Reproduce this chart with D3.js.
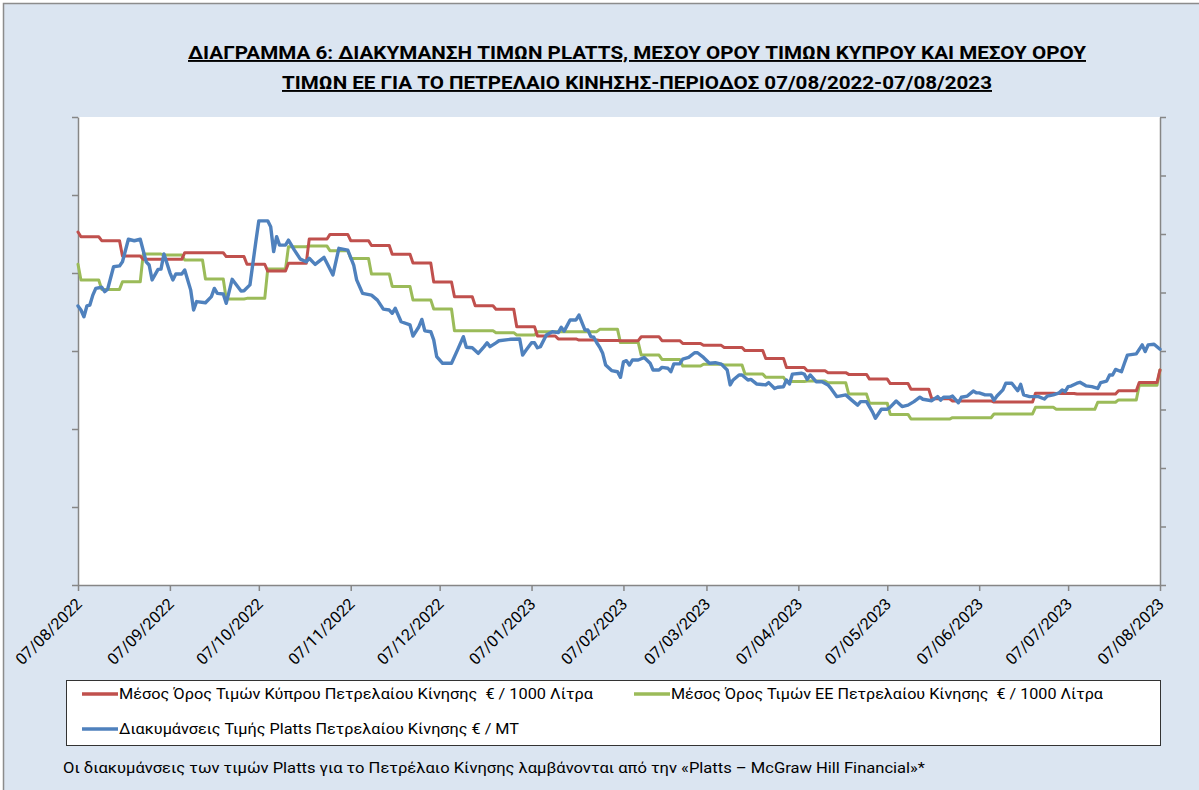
<!DOCTYPE html>
<html>
<head>
<meta charset="utf-8">
<script src="https://cdn.jsdelivr.net/npm/d3@7"></script>
<style>
  body { margin: 0; background: #fff; }
  text { font-family: Roboto, "Noto Sans", "DejaVu Sans", sans-serif; white-space: pre; }
</style>
</head>
<body>
<script>
// ---- Datos ----
const titleLines = [
  "ΔΙΑΓΡΑΜΜΑ 6: ΔΙΑΚΥΜΑΝΣΗ ΤΙΜΩΝ PLATTS, ΜΕΣΟΥ ΟΡΟΥ ΤΙΜΩΝ ΚΥΠΡΟΥ ΚΑΙ ΜΕΣΟΥ ΟΡΟΥ",
  "ΤΙΜΩΝ ΕΕ ΓΙΑ ΤΟ ΠΕΤΡΕΛΑΙΟ ΚΙΝΗΣΗΣ-ΠΕΡΙΟΔΟΣ 07/08/2022-07/08/2023"
]

const seriesNames = [
  "Μέσος Όρος Τιμών Κύπρου Πετρελαίου Κίνησης  € / 1000 Λίτρα",
  "Μέσος Όρος Τιμών ΕΕ Πετρελαίου Κίνησης  € / 1000 Λίτρα",
  "Διακυμάνσεις Τιμής Platts Πετρελαίου Κίνησης € / MT"
]

const footnote = "Οι διακυμάνσεις των τιμών Platts για το Πετρέλαιο Κίνησης λαμβάνονται από την «Platts – McGraw Hill Financial»*"

const monthLabels = ["07/08/2022", "07/09/2022", "07/10/2022", "07/11/2022", "07/12/2022", "07/01/2023",
  "07/02/2023", "07/03/2023", "07/04/2023", "07/05/2023", "07/06/2023", "07/07/2023", "07/08/2023"]

// fechas de cambio semanal (medias Chipre / UE)
const weekDates = ["2022-08-07", "2022-08-08", "2022-08-15", "2022-08-22", "2022-08-29",
  "2022-09-05", "2022-09-12", "2022-09-19", "2022-09-26",
  "2022-10-03", "2022-10-10", "2022-10-17", "2022-10-24", "2022-10-31",
  "2022-11-07", "2022-11-14", "2022-11-21", "2022-11-28",
  "2022-12-05", "2022-12-12", "2022-12-19", "2022-12-26",
  "2023-01-02", "2023-01-09", "2023-01-16", "2023-01-23", "2023-01-30",
  "2023-02-06", "2023-02-13", "2023-02-20", "2023-02-27",
  "2023-03-06", "2023-03-13", "2023-03-20", "2023-03-27",
  "2023-04-03", "2023-04-10", "2023-04-17", "2023-04-24",
  "2023-05-01", "2023-05-08", "2023-05-15", "2023-05-22", "2023-05-29",
  "2023-06-05", "2023-06-12", "2023-06-19", "2023-06-26",
  "2023-07-03", "2023-07-10", "2023-07-17", "2023-07-24", "2023-07-31", "2023-08-07"]

// € / 1000 litros (eje izquierdo)
const cyprusAvg = [1810, 1786, 1766, 1687, 1670, 1670, 1704, 1704, 1684, 1645, 1610, 1650, 1774, 1798,
  1766, 1741, 1696, 1651, 1554, 1478, 1432, 1414, 1325, 1277, 1262, 1256, 1254, 1253, 1273, 1253, 1239,
  1229, 1218, 1202, 1162, 1115, 1099, 1089, 1080, 1056, 1033, 1004, 955, 944, 944, 938, 938, 983,
  982, 979, 979, 996, 1039, 1103]

const euAvg = [1645, 1564, 1516, 1555, 1697, 1692, 1667, 1569, 1467, 1470, 1620, 1735, 1738, 1714,
  1675, 1595, 1531, 1462, 1415, 1304, 1304, 1294, 1282, 1299, 1299, 1299, 1311, 1243, 1179, 1157, 1123,
  1132, 1128, 1082, 1065, 1043, 1046, 1037, 979, 932, 875, 851, 851, 858, 858, 877, 877, 911,
  901, 901, 937, 949, 1024, 1103]

// € / MT (eje derecho)
const platts = [
  ["2022-08-07", 954], ["2022-08-08", 940], ["2022-08-09", 917], ["2022-08-10", 954], ["2022-08-11", 957],
  ["2022-08-12", 991], ["2022-08-13", 1014], ["2022-08-15", 1018], ["2022-08-16", 1003], ["2022-08-17", 1011],
  ["2022-08-19", 1088], ["2022-08-21", 1091], ["2022-08-22", 1105], ["2022-08-24", 1182], ["2022-08-26", 1177],
  ["2022-08-28", 1182], ["2022-08-30", 1105], ["2022-08-31", 1094], ["2022-09-01", 1043], ["2022-09-03", 1079],
  ["2022-09-04", 1080], ["2022-09-05", 1132], ["2022-09-07", 1068], ["2022-09-08", 1043], ["2022-09-09", 1063],
  ["2022-09-11", 1063], ["2022-09-12", 1077], ["2022-09-14", 1009], ["2022-09-15", 940], ["2022-09-16", 969],
  ["2022-09-19", 965], ["2022-09-21", 986], ["2022-09-22", 1014], ["2022-09-23", 997], ["2022-09-25", 995],
  ["2022-09-26", 963], ["2022-09-28", 1045], ["2022-10-01", 1005], ["2022-10-02", 1006], ["2022-10-04", 1026],
  ["2022-10-05", 1100], ["2022-10-06", 1174], ["2022-10-07", 1245], ["2022-10-10", 1245], ["2022-10-11", 1225],
  ["2022-10-12", 1140], ["2022-10-13", 1191], ["2022-10-14", 1162], ["2022-10-16", 1162], ["2022-10-17", 1179],
  ["2022-10-19", 1145], ["2022-10-21", 1114], ["2022-10-23", 1105], ["2022-10-24", 1117], ["2022-10-26", 1096],
  ["2022-10-29", 1120], ["2022-10-30", 1100], ["2022-11-01", 1060], ["2022-11-03", 1151], ["2022-11-06", 1145],
  ["2022-11-08", 1094], ["2022-11-09", 1043], ["2022-11-11", 997], ["2022-11-14", 991], ["2022-11-16", 974],
  ["2022-11-18", 943], ["2022-11-20", 940], ["2022-11-21", 929], ["2022-11-22", 946], ["2022-11-24", 900],
  ["2022-11-27", 889], ["2022-11-28", 851], ["2022-11-30", 883], ["2022-12-01", 908], ["2022-12-02", 869],
  ["2022-12-04", 866], ["2022-12-05", 838], ["2022-12-06", 781], ["2022-12-08", 758], ["2022-12-11", 758],
  ["2022-12-13", 803], ["2022-12-15", 849], ["2022-12-16", 813], ["2022-12-18", 811], ["2022-12-20", 792],
  ["2022-12-22", 815], ["2022-12-23", 828], ["2022-12-24", 815], ["2022-12-26", 828], ["2022-12-27", 835],
  ["2022-12-31", 840], ["2023-01-03", 841], ["2023-01-04", 786], ["2023-01-05", 801], ["2023-01-07", 828],
  ["2023-01-08", 828], ["2023-01-09", 811], ["2023-01-10", 815], ["2023-01-12", 855], ["2023-01-14", 866],
  ["2023-01-16", 863], ["2023-01-17", 881], ["2023-01-18", 868], ["2023-01-20", 906], ["2023-01-22", 906],
  ["2023-01-23", 923], ["2023-01-25", 872], ["2023-01-26", 872], ["2023-01-27", 849], ["2023-01-28", 847],
  ["2023-01-29", 828], ["2023-01-30", 813], ["2023-01-31", 792], ["2023-02-01", 752], ["2023-02-03", 733],
  ["2023-02-05", 729], ["2023-02-06", 710], ["2023-02-07", 763], ["2023-02-08", 767], ["2023-02-09", 752],
  ["2023-02-10", 769], ["2023-02-12", 769], ["2023-02-14", 778], ["2023-02-16", 758], ["2023-02-17", 735],
  ["2023-02-19", 735], ["2023-02-20", 744], ["2023-02-22", 741], ["2023-02-23", 729], ["2023-02-24", 756],
  ["2023-02-26", 756], ["2023-02-27", 772], ["2023-03-01", 778], ["2023-03-03", 794], ["2023-03-04", 794],
  ["2023-03-06", 778], ["2023-03-08", 758], ["2023-03-10", 760], ["2023-03-12", 755], ["2023-03-14", 735],
  ["2023-03-15", 684], ["2023-03-16", 701], ["2023-03-18", 718], ["2023-03-19", 718], ["2023-03-21", 701],
  ["2023-03-22", 703], ["2023-03-24", 687], ["2023-03-27", 684], ["2023-03-28", 692], ["2023-03-30", 672],
  ["2023-03-31", 676], ["2023-04-02", 678], ["2023-04-03", 701], ["2023-04-04", 687], ["2023-04-05", 721],
  ["2023-04-08", 724], ["2023-04-09", 721], ["2023-04-10", 703], ["2023-04-11", 718], ["2023-04-13", 695],
  ["2023-04-15", 695], ["2023-04-17", 684], ["2023-04-18", 672], ["2023-04-20", 644], ["2023-04-23", 650],
  ["2023-04-25", 632], ["2023-04-27", 615], ["2023-04-28", 627], ["2023-04-30", 627], ["2023-05-02", 592],
  ["2023-05-03", 570], ["2023-05-05", 601], ["2023-05-07", 601], ["2023-05-08", 608], ["2023-05-10", 629],
  ["2023-05-12", 610], ["2023-05-14", 615], ["2023-05-16", 627], ["2023-05-18", 642], ["2023-05-19", 635],
  ["2023-05-22", 630], ["2023-05-24", 644], ["2023-05-25", 632], ["2023-05-26", 642], ["2023-05-28", 642],
  ["2023-05-29", 646], ["2023-05-31", 623], ["2023-06-01", 642], ["2023-06-03", 646], ["2023-06-05", 663],
  ["2023-06-06", 657], ["2023-06-07", 657], ["2023-06-09", 650], ["2023-06-11", 650], ["2023-06-12", 632],
  ["2023-06-13", 646], ["2023-06-15", 667], ["2023-06-16", 690], ["2023-06-18", 690], ["2023-06-20", 664],
  ["2023-06-21", 686], ["2023-06-22", 650], ["2023-06-24", 644], ["2023-06-27", 644], ["2023-06-29", 636],
  ["2023-06-30", 646], ["2023-07-02", 650], ["2023-07-04", 657], ["2023-07-05", 667], ["2023-07-06", 661],
  ["2023-07-07", 678], ["2023-07-08", 680], ["2023-07-10", 690], ["2023-07-11", 693], ["2023-07-13", 681],
  ["2023-07-15", 678], ["2023-07-17", 672], ["2023-07-18", 692], ["2023-07-20", 697], ["2023-07-21", 718],
  ["2023-07-22", 718], ["2023-07-23", 737], ["2023-07-25", 729], ["2023-07-26", 758], ["2023-07-27", 786],
  ["2023-07-30", 790], ["2023-08-01", 821], ["2023-08-02", 798], ["2023-08-03", 821], ["2023-08-05", 823],
  ["2023-08-07", 806]
]

const colors = ["#C0504D", "#9BBB59", "#4F81BD"]

// ---- Escalas ----
let parseDay = d3.timeParse("%Y-%m-%d")
let parseLabel = d3.timeParse("%d/%m/%Y")
let monthDates = monthLabels.map(parseLabel)
let weeks = weekDates.map(parseDay)

let x = d3.scaleTime()
        .domain([monthDates[0], monthDates[monthDates.length - 1]])
        .range([78, 1160])

let yLeft = d3.scaleLinear().domain([0, 2400]).range([585, 117])
let yRight = d3.scaleLinear().domain([0, 1600]).range([585, 117])

// series semanales: el valor se mantiene hasta el día anterior al siguiente cambio
function stepPoints(values) {
    let pts = []
    values.forEach((v, i) => {
        pts.push([weeks[i], v])
        if (i < values.length - 1) pts.push([d3.timeDay.offset(weeks[i + 1], -1), v])
    })
    return pts
}

// ---- SVG ----
let svg = d3.select("body")
        .append("svg")
        .attr("width", 1199)
        .attr("height", 790)

svg.append("rect")
        .attr("x", 3.5).attr("y", 3.5)
        .attr("width", 1210).attr("height", 800)
        .attr("fill", "#DBE5F1")
        .attr("stroke", "#8C8C8C")
        .attr("stroke-width", 1.5)

// título
svg.append("g")
        .selectAll("text")
        .data(titleLines)
        .join("text")
        .attr("x", 637)
        .attr("y", (d, i) => 59 + i * 30)
        .attr("text-anchor", "middle")
        .attr("font-size", 19)
        .attr("font-weight", "bold")
        .attr("text-decoration", "underline")
        .attr("textLength", (d, i) => i == 0 ? 898 : 710)
        .attr("lengthAdjust", "spacingAndGlyphs")
        .text(d => d)

// área del gráfico
svg.append("rect")
        .attr("x", 78).attr("y", 117)
        .attr("width", 1160 - 78).attr("height", 585 - 117)
        .attr("fill", "#fff")

// ejes
let axisLeft = svg.append("g")
        .attr("transform", "translate(78,0)")
        .call(d3.axisLeft(yLeft).tickValues(d3.range(0, 2401, 400)).tickSize(6).tickSizeOuter(0).tickFormat(""))

let axisRight = svg.append("g")
        .attr("transform", "translate(1160,0)")
        .call(d3.axisRight(yRight).tickValues(d3.range(0, 1601, 200)).tickSize(6).tickSizeOuter(0).tickFormat(""))

let axisBottom = svg.append("g")
        .attr("transform", "translate(0,585)")
        .call(d3.axisBottom(x).tickValues(monthDates).tickSize(6).tickSizeOuter(0).tickFormat(""))

svg.selectAll(".domain, .tick line")
        .attr("stroke", "#868686")
        .attr("stroke-width", 1.5)

// etiquetas de fecha inclinadas
svg.append("g")
        .selectAll("text")
        .data(monthDates)
        .join("text")
        .attr("transform", d => "translate(" + (x(d) + 5) + ",605) rotate(-45)")
        .attr("text-anchor", "end")
        .attr("font-size", 16)
        .attr("textLength", 86)
        .attr("lengthAdjust", "spacingAndGlyphs")
        .attr("fill", "#000")
        .text((d, i) => monthLabels[i])

// líneas
let lineLeft = d3.line().x(d => x(d[0])).y(d => yLeft(d[1]))
let lineRight = d3.line().x(d => x(parseDay(d[0]))).y(d => yRight(d[1]))

let lines = svg.append("g").attr("fill", "none")
        .attr("stroke-linejoin", "round")
        .attr("stroke-linecap", "round")

lines.append("path")
        .attr("d", lineLeft(stepPoints(euAvg)))
        .attr("stroke", colors[1])
        .attr("stroke-width", 3)

lines.append("path")
        .attr("d", lineLeft(stepPoints(cyprusAvg)))
        .attr("stroke", colors[0])
        .attr("stroke-width", 3)

lines.append("path")
        .attr("d", lineRight(platts))
        .attr("stroke", colors[2])
        .attr("stroke-width", 3.4)

// leyenda
svg.append("rect")
        .attr("x", 66.5).attr("y", 680.5)
        .attr("width", 1094).attr("height", 65)
        .attr("fill", "#fff")
        .attr("stroke", "#333")
        .attr("stroke-width", 1)

let legendPos = [[82, 694, 474], [634, 694, 432], [82, 729, 400]]

let legend = svg.append("g")
        .selectAll("g")
        .data(seriesNames)
        .join("g")
        .attr("transform", (d, i) => "translate(" + legendPos[i][0] + "," + legendPos[i][1] + ")")

legend.append("line")
        .attr("x1", 0).attr("x2", 36)
        .attr("stroke", (d, i) => colors[i])
        .attr("stroke-width", 3.5)

legend.append("text")
        .attr("x", 37)
        .attr("y", 5)
        .attr("font-size", 15)
        .attr("textLength", (d, i) => legendPos[i][2])
        .attr("lengthAdjust", "spacingAndGlyphs")
        .text(d => d)

// nota al pie
svg.append("text")
        .attr("x", 63)
        .attr("y", 773)
        .attr("font-size", 15)
        .attr("textLength", 862)
        .attr("lengthAdjust", "spacingAndGlyphs")
        .text(footnote)
</script>
</body>
</html>
